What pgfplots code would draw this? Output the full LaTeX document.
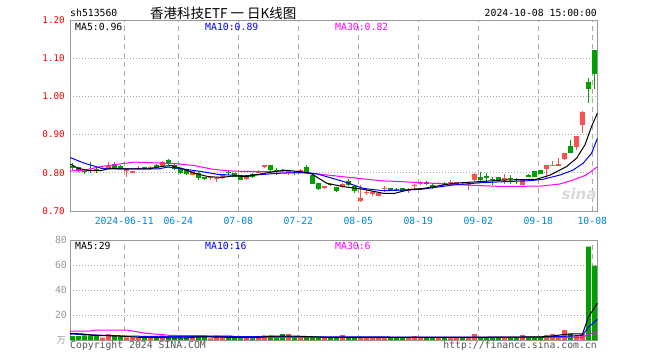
\documentclass[border=0pt]{standalone}
\usepackage{fontspec}
\setmainfont{DejaVu Sans Mono}
\setmonofont{DejaVu Sans Mono}
\newfontfamily\cjk{Noto Sans CJK SC}
\newfontfamily\sinafont{DejaVu Sans}
\usepackage{pgfplots}
\pgfplotsset{compat=1.18}
\usepackage{pgfplotstable}

\definecolor{upred}{RGB}{255,80,80}
\definecolor{dngreen}{RGB}{0,160,0}
\definecolor{framegray}{RGB}{153,153,153}
\definecolor{gridgray}{RGB}{170,170,170}
\definecolor{tickblue}{RGB}{0,136,221}
\definecolor{mablue}{RGB}{0,0,255}
\definecolor{mamag}{RGB}{255,0,255}
\definecolor{txtgray}{RGB}{85,85,85}

% up (red) candles: day index, open, high, low, close, volume
\pgfplotstableread{
i o h l c v
5 0.811 0.815 0.809 0.813 2.0
6 0.815 0.828 0.811 0.817 4.8
9 0.8035 0.812 0.790 0.810 2.1
10 0.800 0.806 0.799 0.805 2.1
11 0.811 0.8166 0.808 0.813 2.1
13 0.812 0.8166 0.808 0.814 2.1
15 0.819 0.830 0.818 0.828 3.7
20 0.795 0.807 0.794 0.805 1.6
23 0.787 0.790 0.780 0.789 1.3
24 0.785 0.789 0.777 0.787 3.7
25 0.786 0.796 0.785 0.795 2.1
29 0.786 0.790 0.782 0.788 2.1
31 0.800 0.807 0.799 0.806 2.1
32 0.814 0.821 0.813 0.820 3.7
36 0.804 0.808 0.795 0.806 4.8
38 0.800 0.810 0.799 0.808 2.1
42 0.759 0.766 0.758 0.765 2.1
45 0.762 0.773 0.761 0.772 4.0
48 0.727 0.768 0.724 0.735 2.1
49 0.749 0.755 0.742 0.751 2.1
50 0.747 0.752 0.738 0.749 2.1
51 0.740 0.749 0.738 0.748 2.1
52 0.758 0.766 0.750 0.760 2.1
56 0.754 0.760 0.748 0.756 2.1
57 0.766 0.772 0.757 0.768 3.2
58 0.772 0.778 0.768 0.774 2.1
61 0.772 0.776 0.770 0.774 2.1
63 0.774 0.780 0.772 0.776 2.1
64 0.770 0.776 0.769 0.775 2.1
66 0.769 0.773 0.755 0.771 2.1
67 0.780 0.799 0.779 0.797 4.8
72 0.781 0.797 0.772 0.786 2.1
75 0.768 0.785 0.767 0.783 4.0
79 0.809 0.821 0.785 0.820 4.0
80 0.819 0.831 0.818 0.821 4.8
81 0.820 0.838 0.818 0.822 3.2
82 0.835 0.852 0.834 0.851 8.0
84 0.867 0.897 0.860 0.896 3.2
85 0.925 0.961 0.905 0.960 4.8
}\redtab

% down (green) candles
\pgfplotstableread{
i o h l c v
0 0.8166 0.825 0.808 0.8140 3.2
1 0.8140 0.816 0.801 0.8035 3.2
2 0.805 0.808 0.797 0.803 3.7
3 0.808 0.828 0.799 0.805 3.7
4 0.810 0.8166 0.7991 0.808 3.2
7 0.823 0.828 0.810 0.812 3.2
8 0.819 0.821 0.809 0.811 3.2
12 0.814 0.816 0.810 0.812 2.1
14 0.821 0.822 0.811 0.812 2.1
16 0.833 0.835 0.821 0.823 2.1
17 0.821 0.823 0.808 0.811 2.1
18 0.810 0.812 0.797 0.799 2.1
19 0.810 0.811 0.795 0.797 2.1
21 0.799 0.801 0.782 0.786 3.7
22 0.788 0.790 0.780 0.786 3.2
26 0.803 0.808 0.795 0.801 2.1
27 0.799 0.800 0.789 0.790 2.1
28 0.793 0.794 0.780 0.782 1.3
30 0.797 0.799 0.786 0.788 1.3
33 0.820 0.821 0.806 0.807 3.7
34 0.807 0.812 0.794 0.805 2.1
35 0.808 0.809 0.803 0.806 4.8
37 0.803 0.804 0.795 0.801 2.1
39 0.814 0.820 0.797 0.800 2.1
40 0.794 0.796 0.770 0.772 2.1
41 0.773 0.774 0.755 0.757 2.1
43 0.772 0.774 0.765 0.770 2.1
44 0.762 0.764 0.751 0.753 2.1
46 0.779 0.783 0.766 0.768 2.1
47 0.765 0.767 0.746 0.753 2.1
53 0.759 0.760 0.756 0.757 2.1
54 0.758 0.759 0.754 0.756 2.1
55 0.760 0.761 0.751 0.752 2.1
59 0.775 0.778 0.768 0.773 2.1
60 0.769 0.771 0.757 0.764 2.1
62 0.773 0.775 0.770 0.771 2.1
65 0.772 0.773 0.768 0.770 2.1
68 0.790 0.803 0.778 0.780 2.1
69 0.791 0.799 0.773 0.789 2.1
70 0.785 0.789 0.768 0.783 2.1
71 0.789 0.790 0.778 0.780 2.1
73 0.787 0.794 0.771 0.785 2.1
74 0.785 0.786 0.772 0.783 2.1
76 0.793 0.797 0.788 0.791 2.1
77 0.805 0.806 0.789 0.790 2.1
78 0.807 0.808 0.796 0.797 2.1
83 0.870 0.886 0.851 0.853 5.3
86 1.0385 1.047 0.9835 1.0186 74.7
87 1.1215 1.122 1.0186 1.058 59.5
}\greentab

\pgfplotsset{
  kpanel/.style={
    scale only axis, width=527.7pt,
    xmin=-0.4167, xmax=87.53,
    axis line style={framegray, line width=1pt},
    tick style={draw=none},
    xtick={8.633,17.633,27.633,37.633,47.633,57.633,67.633,77.633,86.633},
    xmajorgrids, ymajorgrids,
    x grid style={gridgray, dash pattern=on 5pt off 4pt, line width=1pt},
    y grid style={gridgray, dash pattern=on 1pt off 2pt, line width=1pt},
  },
  wick/.style={draw=none, mark=none, forget plot,
    error bars/.cd, y dir=plus, y explicit, error mark=none,
    error bar style={draw=#1, line width=0.9pt}},
  body/.style={draw=none, mark=none, forget plot,
    error bars/.cd, y dir=both, y explicit, error mark=none,
    error bar style={draw=#1, line width=4.6pt}},
}

\newcommand{\txt}{\fontsize{9.8}{11}\selectfont}

\begin{document}
\begin{tikzpicture}
% ---------------- price panel ----------------
\begin{axis}[kpanel,
  at={(70pt,149pt)}, anchor=south west, height=191pt,
  ymin=0.7, ymax=1.2,
  ytick={0.7,0.8,0.9,1.0,1.1,1.2},
  yticklabels={0.70,0.80,0.90,1.00,1.10,1.20},
  yticklabel style={red, anchor=east, inner sep=0pt, xshift=-5pt, font=\fontsize{9.3}{10}\selectfont},
  xticklabels={2024-06-11,06-24,07-08,07-22,08-05,08-19,09-02,09-18,10-08},
  xticklabel style={tickblue, anchor=center, inner sep=0pt, yshift=-10pt, font=\txt},
]
\addplot[wick=upred] table[x=i, y=l, y error expr=\thisrow{h}-\thisrow{l}] {\redtab};
\addplot[body=upred] table[x=i, y expr={(\thisrow{o}+\thisrow{c})/2}, y error expr={abs(\thisrow{c}-\thisrow{o})/2}] {\redtab};
\addplot[wick=dngreen] table[x=i, y=l, y error expr=\thisrow{h}-\thisrow{l}] {\greentab};
\addplot[body=dngreen] table[x=i, y expr={(\thisrow{o}+\thisrow{c})/2}, y error expr={abs(\thisrow{c}-\thisrow{o})/2}] {\greentab};
% MA30
\addplot[mamag, line width=1pt, mark=none] coordinates {
(-0.4,0.805) (2,0.807) (4.8,0.8166) (8.1,0.8236) (10.3,0.828) (14,0.826) (17.5,0.8236) (20.3,0.819) (23.1,0.810) (25.9,0.805) (29.2,0.8035) (34.1,0.803) (39.6,0.7986) (42.6,0.794) (47.6,0.7855) (51.6,0.779) (54.6,0.777) (60.1,0.7725) (65.6,0.768) (71.2,0.7644) (77.9,0.765) (81.2,0.7707) (83.4,0.781) (85.6,0.794) (87.5,0.816)};
% MA10
\addplot[mablue, line width=1pt, mark=none] coordinates {
(-0.4,0.840) (2,0.825) (4.8,0.812) (6,0.810) (14.2,0.810) (15.9,0.815) (17.5,0.812) (21.4,0.8035) (24.2,0.796) (28.5,0.792) (34.1,0.7986) (38.5,0.801) (40.8,0.797) (45.2,0.777) (48.5,0.759) (51.9,0.753) (58,0.7567) (63.4,0.768) (67.9,0.774) (72.3,0.777) (76.2,0.7794) (78.4,0.783) (81.2,0.794) (83.4,0.807) (85.1,0.825) (86.5,0.851) (87.5,0.891)};
% MA5
\addplot[black, line width=1pt, mark=none] coordinates {
(-0.4,0.823) (0.9,0.812) (2.6,0.806) (4.8,0.806) (6.4,0.812) (8.1,0.810) (10.3,0.810) (12.6,0.810) (14.8,0.8166) (16.4,0.819) (18.1,0.812) (20.3,0.799) (22.6,0.790) (24.8,0.788) (27,0.792) (29,0.790) (31.9,0.7986) (35.2,0.807) (38,0.803) (39.7,0.7986) (42.4,0.7724) (45.2,0.7637) (48.5,0.7567) (51.9,0.746) (53.6,0.746) (56.3,0.7567) (58.5,0.759) (63.4,0.7724) (67.9,0.777) (71.8,0.781) (77.3,0.783) (79.6,0.794) (82.3,0.816) (84,0.838) (85.4,0.873) (86.5,0.921) (87.5,0.957)};
\end{axis}

% ---------------- volume panel ----------------
\begin{axis}[kpanel,
  at={(70pt,20pt)}, anchor=south west, height=100pt,
  ymin=0, ymax=80,
  ytick={0,20,40,60,80},
  yticklabels={,20,40,60,80},
  yticklabel style={framegray, anchor=east, inner sep=0pt, xshift=-3pt, font=\txt},
  xticklabels={,,,,,,,,},
]
\addplot[ybar, bar width=4.6pt, bar shift=0pt, fill=upred, draw=none, forget plot] table[x=i, y=v] {\redtab};
\addplot[ybar, bar width=4.6pt, bar shift=0pt, fill=dngreen, draw=none, forget plot] table[x=i, y=v] {\greentab};
\addplot[mamag, line width=1pt, mark=none] coordinates {
(-0.4,7.2) (2.9,7.2) (4,8) (9,8) (10.6,6.7) (12.3,5.3) (14.6,4.5) (16.2,3.7) (26.6,3.2) (27.6,2.1) (85,2.1) (86,4.5) (87.5,6.8)};
\addplot[mablue, line width=1pt, mark=none] coordinates {
(-0.4,4.8) (4,4.0) (8,3.2) (16,2.7) (40,2.6) (60,2.3) (78,2.3) (82,3.0) (85,3.7) (86,10.5) (87.5,16.5)};
\addplot[black, line width=1pt, mark=none] coordinates {
(-0.4,5.3) (1.8,4.8) (3.5,3.7) (8,3.2) (11.3,2.1) (19,1.6) (21,2.6) (30,1.8) (34,3.2) (38,3.0) (42,2.2) (50,2.1) (66,2.1) (72,2.3) (78,2.5) (80,3.2) (82,4.5) (84,5.0) (85,4.8) (86,18.7) (87.5,29.5)};
\end{axis}

% ---------------- texts ----------------
\node[anchor=west, inner sep=0pt, font=\txt] at (70pt,347pt) {sh513560};
\node[anchor=west, inner sep=0pt, font=\cjk\fontsize{13.5}{14}\selectfont] at (150pt,347pt) {香港科技ETF 一 日K线图};
\node[anchor=east, inner sep=0pt, font=\txt] at (597pt,347pt) {2024-10-08 15:00:00};
\node[anchor=west, inner sep=0pt, font=\txt, text=black] at (75pt,333.5pt) {MA5:0.96};
\node[anchor=west, inner sep=0pt, font=\txt, text=mablue] at (205pt,333.5pt) {MA10:0.89};
\node[anchor=west, inner sep=0pt, font=\txt, text=mamag] at (335pt,333.5pt) {MA30:0.82};
\node[anchor=west, inner sep=0pt, font=\txt, text=black] at (75pt,114pt) {MA5:29};
\node[anchor=west, inner sep=0pt, font=\txt, text=mablue] at (205pt,114pt) {MA10:16};
\node[anchor=west, inner sep=0pt, font=\txt, text=mamag] at (335pt,114pt) {MA30:6};
\node[anchor=east, inner sep=0pt, font=\cjk\fontsize{9}{10}\selectfont, text=framegray] at (66pt,20pt) {万};
\node[anchor=west, inner sep=0pt, font=\txt, text=txtgray] at (70pt,14pt) {Copyright 2024 SINA.COM};
\node[anchor=east, inner sep=0pt, font=\txt, text=txtgray] at (597pt,14pt) {http://finance.sina.com.cn};
\node[inner sep=0pt, font=\sinafont\bfseries\itshape\fontsize{15}{15}\selectfont, text=gray!30] at (579pt,166pt) {sina};

\pgfresetboundingbox
\path[use as bounding box] (0,0) rectangle (660pt,360pt);
\end{tikzpicture}
\end{document}
